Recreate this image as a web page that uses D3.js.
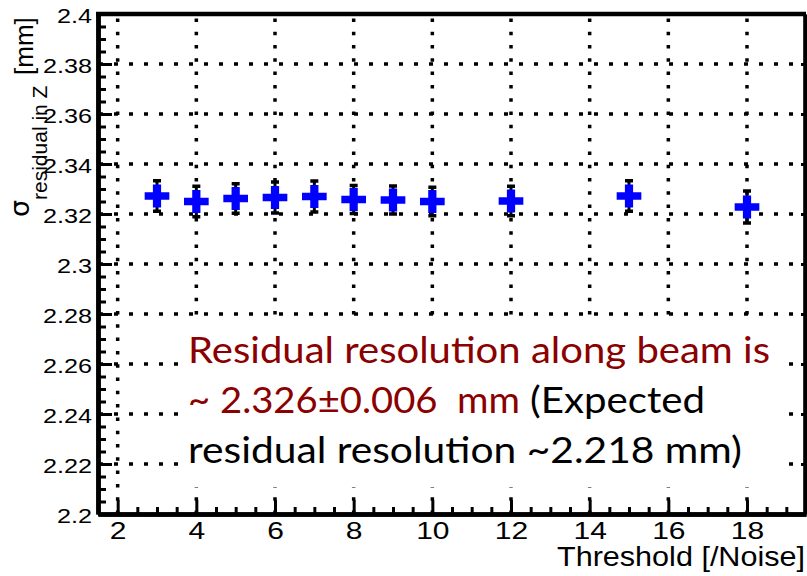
<!DOCTYPE html>
<html>
<head>
<meta charset="utf-8">
<script src="https://cdn.jsdelivr.net/npm/d3@7"></script>
<style>
  body { margin: 0; background: #fff; }
  svg { display: block; }
</style>
</head>
<body>
<div id="chart"></div>
<script>
// data
const thresholds = [3, 4, 5, 6, 7, 8, 9, 10, 12, 15, 18];
const sigmaZ     = [2.3272, 2.3250, 2.3262, 2.3266, 2.3270, 2.3258, 2.3256, 2.3250, 2.3252, 2.3272, 2.3228];
const sigmaErr   = [0.0062, 0.0062, 0.0060, 0.0063, 0.0063, 0.0057, 0.0057, 0.0058, 0.0060, 0.0062, 0.0065];
const xMajor = [2, 4, 6, 8, 10, 12, 14, 16, 18];
const yMajor = [2.2, 2.22, 2.24, 2.26, 2.28, 2.3, 2.32, 2.34, 2.36, 2.38, 2.4];

const W = 807, H = 576;
const plotL = 98, plotR = 806, plotT = 14, plotB = 514;

const svg = d3.select("#chart")
    .append("svg")
    .attr("width", W)
    .attr("height", H);

svg.append("rect").attr("width", W).attr("height", H).attr("fill", "#fff");

const x = d3.scaleLinear().domain([1.5, 19.5]).range([plotL, plotR]);
const y = d3.scaleLinear().domain([2.2, 2.4]).range([plotB, plotT]);

const xMinor = d3.range(1.5, 19.51, 0.5).filter(v => !xMajor.includes(v));
const yMinor = d3.range(0, 41).map(i => +(2.2 + i * 0.005).toFixed(3)).filter(v => !yMajor.some(m => Math.abs(m - v) < 1e-9));

// dotted grid
const grid = svg.append("g").attr("stroke", "#000").attr("stroke-width", 3.5);
grid.selectAll(".gx")
    .data(xMajor)
    .enter()
    .append("line")
    .attr("x1", d => x(d)).attr("x2", d => x(d))
    .attr("y1", plotB).attr("y2", plotT)
    .attr("stroke-dasharray", "3.5,9.8");
grid.selectAll(".gy")
    .data(yMajor.slice(1, -1))
    .enter()
    .append("line")
    .attr("x1", plotL + 1).attr("x2", plotR)
    .attr("y1", d => y(d)).attr("y2", d => y(d))
    .attr("stroke-dasharray", "4,11");

// white box behind the note
svg.append("rect")
    .attr("x", 178).attr("y", 320)
    .attr("width", 608).attr("height", 167)
    .attr("fill", "#fff");

const tickFont = "'Liberation Sans', Arial, Helvetica, sans-serif";

// Y axis (ticks inside)
const yAxis = svg.append("g")
    .attr("transform", `translate(${plotL},0)`)
    .call(d3.axisLeft(y).tickValues(yMajor).tickSize(-14).tickSizeOuter(0).tickPadding(6)
        .tickFormat(d3.format("~g")));
svg.append("g")
    .attr("transform", `translate(${plotL},0)`)
    .call(d3.axisLeft(y).tickValues(yMinor).tickSize(-8).tickSizeOuter(0).tickFormat(""));

// X axis (ticks inside)
const xAxis = svg.append("g")
    .attr("transform", `translate(0,${plotB})`)
    .call(d3.axisBottom(x).tickValues(xMajor).tickSize(-14).tickSizeOuter(0).tickPadding(8));
svg.append("g")
    .attr("transform", `translate(0,${plotB})`)
    .call(d3.axisBottom(x).tickValues(xMinor).tickSize(-7).tickSizeOuter(0).tickFormat(""));

// right frame with small ticks
svg.append("g")
    .attr("transform", `translate(${plotR - 1},0)`)
    .call(d3.axisRight(y).tickValues(yMajor).tickSize(-4).tickSizeOuter(0).tickFormat(""));

svg.selectAll(".tick line").attr("stroke", "#000").attr("stroke-width", 3);
svg.selectAll(".domain").attr("stroke", "#000").attr("stroke-width", 4.5);

yAxis.selectAll("text")
    .attr("font-family", tickFont)
    .attr("font-size", 21)
    .attr("fill", "#000")
    .attr("dy", "0.42em")
    .attr("transform", "scale(1.2,1)")
    .attr("x", -6 / 1.2);
xAxis.selectAll("text")
    .attr("font-family", tickFont)
    .attr("font-size", 24)
    .attr("fill", "#000")
    .attr("transform", "scale(1.25,1)");

// top frame
svg.append("line")
    .attr("x1", plotL - 2).attr("x2", plotR)
    .attr("y1", plotT).attr("y2", plotT)
    .attr("stroke", "#000").attr("stroke-width", 4.5);
svg.append("line")
    .attr("x1", plotR - 1).attr("x2", plotR - 1)
    .attr("y1", plotT).attr("y2", plotB)
    .attr("stroke", "#000").attr("stroke-width", 2.5);

// error bars
const pts = thresholds.map((t, i) => ({ t, v: sigmaZ[i], e: sigmaErr[i] }));
const eb = svg.append("g").attr("fill", "#000").attr("stroke", "#000");
eb.selectAll("line")
    .data(pts)
    .enter()
    .append("line")
    .attr("x1", d => x(d.t)).attr("x2", d => x(d.t))
    .attr("y1", d => y(d.v - d.e)).attr("y2", d => y(d.v + d.e))
    .attr("stroke-width", 3);
eb.selectAll(".capTop")
    .data(pts)
    .enter()
    .append("rect")
    .attr("stroke", "none")
    .attr("x", d => x(d.t) - 4).attr("y", d => y(d.v + d.e) - 1.5)
    .attr("width", 8).attr("height", 3.5);
eb.selectAll(".capBot")
    .data(pts)
    .enter()
    .append("rect")
    .attr("stroke", "none")
    .attr("x", d => x(d.t) - 4).attr("y", d => y(d.v - d.e) - 2)
    .attr("width", 8).attr("height", 3.5);

// markers
svg.append("g").selectAll("path")
    .data(pts)
    .enter()
    .append("path")
    .attr("transform", d => `translate(${x(d.t)},${y(d.v)}) scale(1.08,1)`)
    .attr("d", d3.symbol(d3.symbolCross, 290))
    .attr("fill", "#0000ff");

// axis titles
svg.append("text")
    .attr("x", 805).attr("y", 566)
    .attr("text-anchor", "end")
    .attr("font-family", tickFont)
    .attr("font-size", 27)
    .attr("textLength", 248)
    .attr("lengthAdjust", "spacingAndGlyphs")
    .text("Threshold [/Noise]");

svg.append("text")
    .attr("transform", "translate(29,217) rotate(-90)")
    .attr("font-family", "'DejaVu Sans', sans-serif")
    .attr("font-size", 27)
    .text("σ");
svg.append("text")
    .attr("transform", "translate(47,200) rotate(-90)")
    .attr("font-family", tickFont)
    .attr("font-size", 21)
    .text("residual in Z");
svg.append("text")
    .attr("transform", "translate(33,75) rotate(-90)")
    .attr("font-family", tickFont)
    .attr("font-size", 26)
    .text("[mm]");

// note
const noteFont = "Lato, 'Open Sans', sans-serif";
const red = "#8b0000";
const note = [
    { x: 188, y: 363, w: 582, c: red, s: "Residual resolution along beam is" },
    { x: 188, y: 413, w: 332, c: red, s: "~ 2.326±0.006  mm" },
    { x: 530, y: 413, w: 175, c: "#000", s: "(Expected" },
    { x: 188, y: 463, w: 554, c: "#000", s: "residual resolution ~2.218 mm)" }
];
svg.selectAll(".note")
    .data(note)
    .enter()
    .append("text")
    .attr("x", d => d.x).attr("y", d => d.y)
    .attr("font-family", noteFont)
    .attr("font-size", 37)
    .attr("fill", d => d.c)
    .attr("textLength", d => d.w)
    .attr("lengthAdjust", "spacingAndGlyphs")
    .style("white-space", "pre")
    .text(d => d.s);
</script>
</body>
</html>
